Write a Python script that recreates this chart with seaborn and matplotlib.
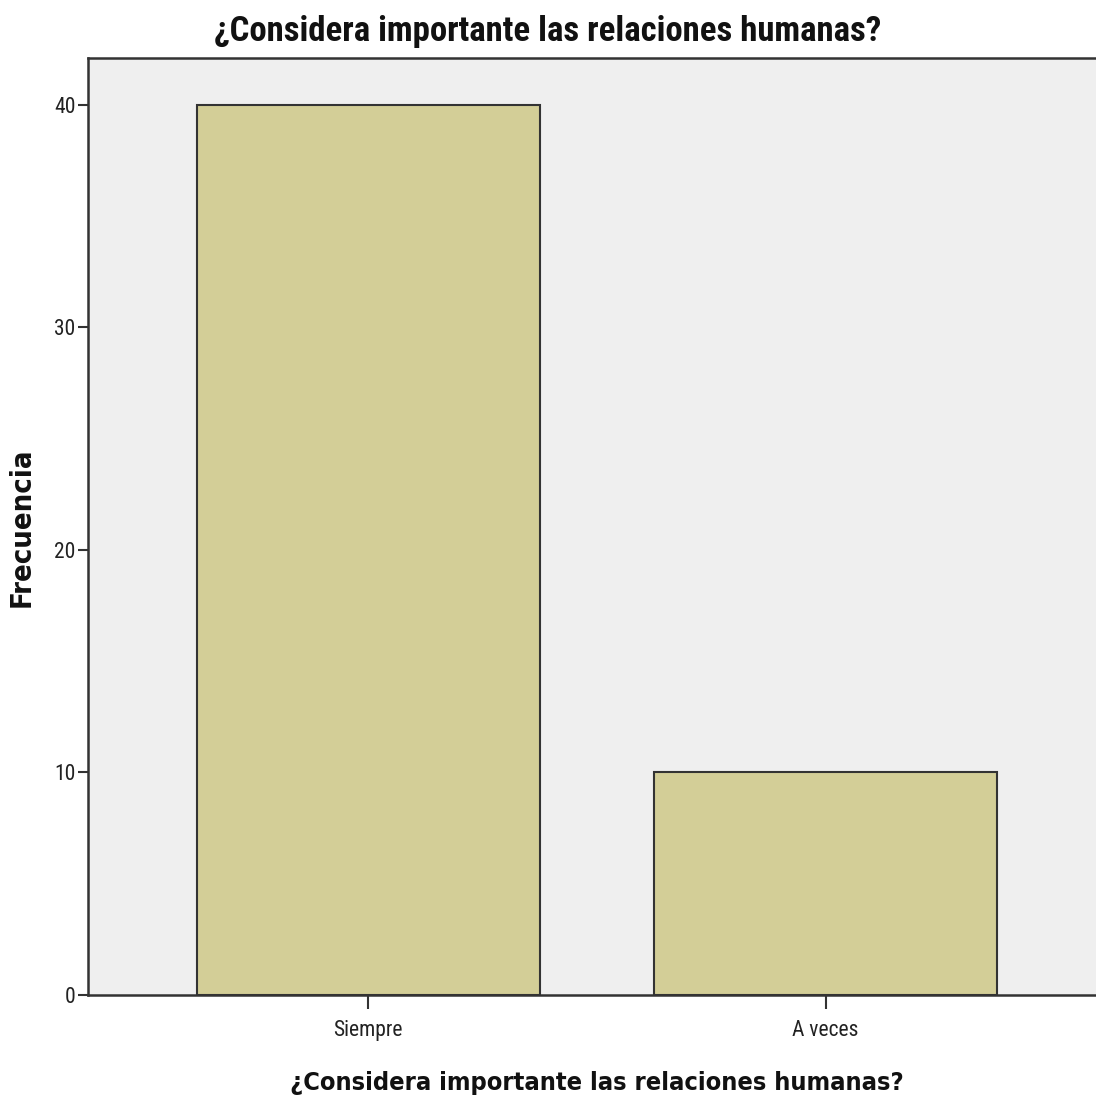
import matplotlib
matplotlib.use("Agg")
import matplotlib.pyplot as plt
import seaborn as sns
import pandas as pd
from matplotlib import font_manager

categories = ["Siempre", "A veces"]
frecuencia = [40, 10]
yticks = [0, 10, 20, 30, 40]
title = "¿Considera importante las relaciones humanas?"

sns.set_style("white")
names = {f.name for f in font_manager.fontManager.ttflist}
narrow = next((n for n in ["Liberation Sans Narrow", "Roboto Condensed", "Archivo Narrow",
                           "Fira Sans Condensed"] if n in names), "DejaVu Sans")
plt.rcParams["font.family"] = ["DejaVu Sans"]

df = pd.DataFrame({"cat": categories, "freq": frecuencia})

fig = plt.figure(figsize=(10.96, 11), dpi=100)
ax = fig.add_axes([88/1096, 105/1100, 1018/1096, 937/1100])
ax.set_facecolor("#EFEFEF")

sns.barplot(data=df, x="cat", y="freq", order=categories, color="#D3CE97",
            saturation=1, width=0.75, edgecolor="#333333", linewidth=1.5, ax=ax)

ax.set_xlim(-0.613, 1.613)
ax.set_ylim(0, 42.11)
ax.set_yticks(yticks)
ax.set_yticklabels([str(v) for v in yticks])
ax.set_xticks([0, 1])
ax.set_xticklabels(categories)
for lab in ax.get_xticklabels() + ax.get_yticklabels():
    lab.set_family(narrow)
    lab.set_fontsize(15.5)
    lab.set_color("#222222")
ax.tick_params(axis="y", direction="out", length=7, width=1.5, color="#333333", left=True, pad=2)
ax.tick_params(axis="x", direction="out", length=10, width=1.5, color="#333333", bottom=True, pad=8)

for s in ["left", "top", "bottom", "right"]:
    ax.spines[s].set_visible(True)
    ax.spines[s].set_color("#333333")
    ax.spines[s].set_linewidth(1.8)

ax.set_xlabel(title, fontsize=18.2, fontweight="bold", fontstretch="condensed",
              color="#111111", va="center")
ax.xaxis.set_label_coords(0.5, -88/937)
ax.set_ylabel("Frecuencia", fontsize=21, fontweight="bold", fontstretch="condensed",
              color="#111111", va="center")
ax.yaxis.set_label_coords(-66/1018, 0.4995)
fig.text(0.5, 1 - 32/1100, title, ha="center", va="center", fontsize=25,
         fontweight="bold", family=narrow, color="#111111")

fig.savefig("out.png", dpi=100, facecolor="white")
